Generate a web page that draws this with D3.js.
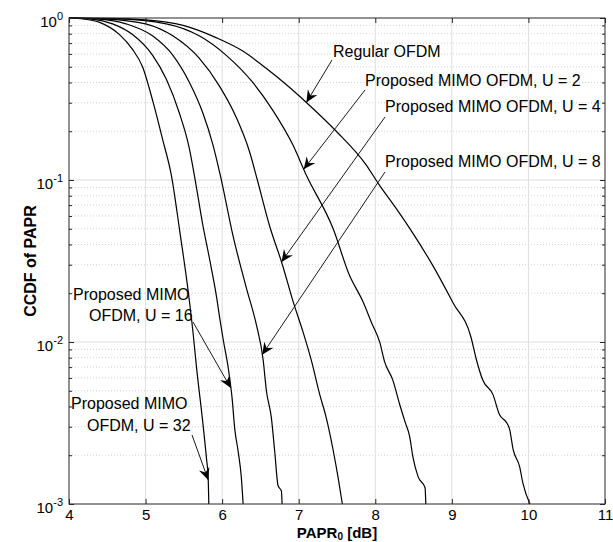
<!DOCTYPE html>
<html>
<head>
<meta charset="utf-8">
<script src="https://cdn.jsdelivr.net/npm/d3@7"></script>
<style>
	body { margin: 0; background: #fff; }
	text { font-family: 'Liberation Sans', Arial, Helvetica, sans-serif; fill: #000; }
</style>
</head>
<body>
<div id="chart"></div>
<script>
// CCDF curves, [PAPR0 dB, CCDF]
const regular = [[4, 1], [4.5, 0.996], [5, 0.975], [5.49, 0.9], [5.92, 0.757], [6.27, 0.625], [6.575, 0.489], [6.84, 0.387], [7.1, 0.301], [7.49, 0.2], [7.88, 0.124], [8.04, 0.095], [8.27, 0.067], [8.49, 0.047], [8.75, 0.0297], [9.02, 0.0173], [9.25, 0.0107], [9.32, 0.0078], [9.405, 0.0058], [9.536, 0.00475], [9.623, 0.00355], [9.71, 0.0032], [9.754, 0.0029], [9.8, 0.00217], [9.885, 0.0017], [9.93, 0.00133], [10.02, 0.001]]
const u2 = [[4, 1], [4.6, 0.99], [5.27, 0.92], [5.7, 0.776], [6.05, 0.59], [6.4, 0.4], [6.66, 0.27], [6.92, 0.166], [7.1, 0.107], [7.45, 0.05], [7.66, 0.026], [7.84, 0.0177], [7.95, 0.0132], [8.06, 0.0099], [8.12, 0.0076], [8.23, 0.0058], [8.32, 0.0041], [8.39, 0.0032], [8.45, 0.0026], [8.49, 0.00197], [8.56, 0.00147], [8.65, 0.00126], [8.66, 0.001]]
const u4 = [[4, 1], [4.5, 0.985], [5, 0.92], [5.355, 0.776], [5.7, 0.565], [5.965, 0.38], [6.18, 0.246], [6.357, 0.15], [6.46, 0.1], [6.62, 0.052], [6.787, 0.03], [6.926, 0.0178], [7.057, 0.0115], [7.165, 0.0077], [7.274, 0.00475], [7.36, 0.0034], [7.448, 0.00217], [7.513, 0.00147], [7.57, 0.001]]
const u8 = [[4, 1], [4.4, 0.985], [4.745, 0.92], [5.09, 0.776], [5.355, 0.59], [5.573, 0.4], [5.747, 0.26], [5.878, 0.166], [5.98, 0.105], [6.143, 0.045], [6.317, 0.0215], [6.45, 0.0126], [6.535, 0.0078], [6.578, 0.005], [6.643, 0.0034], [6.687, 0.0021], [6.73, 0.0013], [6.774, 0.0012], [6.783, 0.001]]
const u16 = [[4, 1], [4.3, 0.985], [4.57, 0.92], [4.83, 0.79], [5.09, 0.59], [5.27, 0.42], [5.44, 0.26], [5.57, 0.158], [5.64, 0.105], [5.75, 0.052], [5.84, 0.0318], [5.93, 0.0186], [5.97, 0.0139], [6.013, 0.0104], [6.078, 0.007], [6.13, 0.0045], [6.165, 0.0029], [6.21, 0.0021], [6.25, 0.00147], [6.274, 0.001]]
const u32 = [[4, 1], [4.2, 0.985], [4.4, 0.94], [4.66, 0.79], [4.83, 0.64], [4.96, 0.5], [5.1, 0.3], [5.22, 0.18], [5.34, 0.105], [5.45, 0.047], [5.557, 0.0205], [5.62, 0.0114], [5.665, 0.007], [5.75, 0.0031], [5.796, 0.0019], [5.817, 0.00147], [5.826, 0.001]]

const xTicks = [4, 5, 6, 7, 8, 9, 10, 11]
const yTicks = [1e-3, 1e-2, 1e-1, 1]
const yExponents = ['-3', '-2', '-1', '0']
const seriesNames = ['Regular OFDM', 'Proposed MIMO OFDM, U = 2', 'Proposed MIMO OFDM, U = 4', 'Proposed MIMO OFDM, U = 8', 'Proposed MIMO OFDM, U = 16', 'Proposed MIMO OFDM, U = 32']
const series = [regular, u2, u4, u8, u16, u32]
// x position (dB) where each label's arrow touches its curve
const arrowAtX = [7.1, 7.065, 6.775, 6.523, 6.113, 5.818]

const width = 613
const height = 542
const margin = { top: 18, right: 8, bottom: 38, left: 69 }

const x = d3.scaleLinear().domain([4, 11]).range([margin.left, width - margin.right])
const y = d3.scaleLog().domain([1e-3, 1]).range([height - margin.bottom, margin.top])

const minorTicks = []
for (let e = -3; e < 0; e++) {
	for (let m = 2; m <= 9; m++) minorTicks.push(m * Math.pow(10, e))
}

const svg = d3.select('#chart')
	.append('svg')
	.attr('width', width)
	.attr('height', height)

const x0 = x.range()[0], x1 = x.range()[1]
const y0 = y.range()[0], y1 = y.range()[1]

// grid
svg.append('g')
	.selectAll('line')
	.data(minorTicks)
	.join('line')
	.attr('x1', x0).attr('x2', x1)
	.attr('y1', d => y(d)).attr('y2', d => y(d))
	.attr('stroke', '#c8c8c8')
	.attr('stroke-width', 0.8)
	.attr('stroke-dasharray', '1,2')

svg.append('g')
	.selectAll('line')
	.data(yTicks.slice(1, -1))
	.join('line')
	.attr('x1', x0).attr('x2', x1)
	.attr('y1', d => y(d)).attr('y2', d => y(d))
	.attr('stroke', '#dedede')

svg.append('g')
	.selectAll('line')
	.data(xTicks.slice(1, -1))
	.join('line')
	.attr('x1', d => x(d)).attr('x2', d => x(d))
	.attr('y1', y0).attr('y2', y1)
	.attr('stroke', '#dedede')

// curves
const line = d3.line()
	.x(d => x(d[0]))
	.y(d => y(d[1]))
	.curve(d3.curveMonotoneX)

svg.append('g')
	.selectAll('path')
	.data(series)
	.join('path')
	.attr('d', line)
	.attr('fill', 'none')
	.attr('stroke', '#000')
	.attr('stroke-width', 1.2)

// axes, ticks pointing inward on all four sides
const styleAxis = g => {
	g.select('.domain').remove()
	g.selectAll('line').attr('stroke', '#262626')
	g.selectAll('text').attr('font-size', 15).attr('fill', '#262626')
}

svg.append('g')
	.attr('transform', `translate(0,${y0})`)
	.call(d3.axisBottom(x).tickValues(xTicks).tickFormat(d3.format('d')).tickSizeInner(-5).tickSizeOuter(0).tickPadding(5))
	.call(styleAxis)

svg.append('g')
	.attr('transform', `translate(0,${y1})`)
	.call(d3.axisTop(x).tickValues(xTicks).tickFormat('').tickSizeInner(-5).tickSizeOuter(0))
	.call(styleAxis)

svg.append('g')
	.attr('transform', `translate(${x0},0)`)
	.call(d3.axisLeft(y).tickValues(yTicks).tickFormat('').tickSizeInner(-5).tickSizeOuter(0))
	.call(styleAxis)

svg.append('g')
	.attr('transform', `translate(${x0},0)`)
	.call(d3.axisLeft(y).tickValues(minorTicks).tickFormat('').tickSizeInner(-3).tickSizeOuter(0))
	.call(styleAxis)

svg.append('g')
	.attr('transform', `translate(${x1},0)`)
	.call(d3.axisRight(y).tickValues(yTicks).tickFormat('').tickSizeInner(-5).tickSizeOuter(0))
	.call(styleAxis)

svg.append('g')
	.attr('transform', `translate(${x1},0)`)
	.call(d3.axisRight(y).tickValues(minorTicks).tickFormat('').tickSizeInner(-3).tickSizeOuter(0))
	.call(styleAxis)

svg.append('rect')
	.attr('x', x0).attr('y', y1)
	.attr('width', x1 - x0).attr('height', y0 - y1)
	.attr('fill', 'none')
	.attr('stroke', '#262626')
	.attr('stroke-width', 1)

// 10^k labels
const yLabels = svg.append('g')
	.selectAll('text')
	.data(yTicks)
	.join('text')
	.attr('x', x0 - 6)
	.attr('y', d => y(d) + 9)
	.attr('text-anchor', 'end')
	.attr('font-size', 15)
	.attr('fill', '#262626')
yLabels.append('tspan').text('10')
yLabels.append('tspan')
	.attr('dy', -7)
	.attr('font-size', 11)
	.text((d, i) => yExponents[i])

// axis titles
const xTitle = svg.append('text')
	.attr('x', (x0 + x1) / 2)
	.attr('y', 538)
	.attr('text-anchor', 'middle')
	.attr('font-size', 15)
	.attr('font-weight', 'bold')
xTitle.append('tspan').text('PAPR')
xTitle.append('tspan').attr('dy', 2).attr('font-size', 10).text('0')
xTitle.append('tspan').attr('dy', -2).text(' [dB]')

svg.append('text')
	.attr('transform', `translate(36,${(y0 + y1) / 2}) rotate(-90)`)
	.attr('text-anchor', 'middle')
	.attr('font-size', 16)
	.attr('font-weight', 'bold')
	.text('CCDF of PAPR')

// annotations: text lines (pixel layout) and arrow tails
const annotations = [
	{ lines: [[333, 57]], tail: [332, 60] },
	{ lines: [[365, 86]], tail: [365, 90] },
	{ lines: [[385, 112]], tail: [385, 117] },
	{ lines: [[385, 167]], tail: [385, 172] },
	{ lines: [[73, 300], [89, 321]], tail: [193, 322] },
	{ lines: [[71, 409], [87, 431]], tail: [192, 435] },
]

const curveY = (data, xv) => {
	const i = d3.bisector(d => d[0]).right(data, xv)
	const a = data[Math.max(0, i - 1)], b = data[Math.min(data.length - 1, i)]
	if (a === b) return a[1]
	const t = (xv - a[0]) / (b[0] - a[0])
	return Math.pow(10, Math.log10(a[1]) + t * (Math.log10(b[1]) - Math.log10(a[1])))
}

annotations.forEach((a, i) => {
	const name = seriesNames[i]
	const parts = a.lines.length > 1 ? ['Proposed MIMO', name.replace('Proposed MIMO ', '')] : [name]
	parts.forEach((t, j) => {
		svg.append('text')
			.attr('x', a.lines[j][0])
			.attr('y', a.lines[j][1])
			.attr('font-size', 16)
			.text(t)
	})

	const tx = x(arrowAtX[i])
	const ty = y(curveY(series[i], arrowAtX[i]))
	const [sx, sy] = a.tail
	svg.append('line')
		.attr('x1', sx).attr('y1', sy)
		.attr('x2', tx).attr('y2', ty)
		.attr('stroke', '#000')
		.attr('stroke-width', 0.9)

	// vback2 style arrow head
	const ang = Math.atan2(ty - sy, tx - sx)
	const L = 12, W = 5.5, N = 8
	const pt = (along, side) => [
		tx - along * Math.cos(ang) - side * Math.sin(ang),
		ty - along * Math.sin(ang) + side * Math.cos(ang),
	]
	svg.append('path')
		.attr('d', d3.line()([[tx, ty], pt(L, W), pt(N, 0), pt(L, -W)]) + 'Z')
		.attr('fill', '#000')
})
</script>
</body>
</html>
